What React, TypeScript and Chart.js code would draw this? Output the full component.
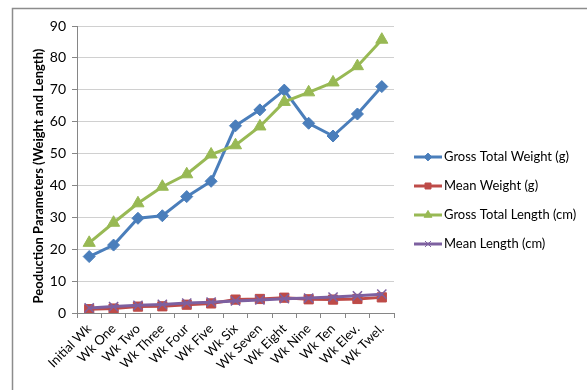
import React, { useEffect, useRef } from "react";
import { Chart, registerables } from "chart.js";
import { drawPoint } from "chart.js/helpers";

Chart.register(...registerables);

const categories = ["Initial Wk", "Wk One", "Wk Two", "Wk Three", "Wk Four", "Wk Five", "Wk Six", "Wk Seven", "Wk Eight", "Wk Nine", "Wk Ten", "Wk Elev.", "Wk Twel."];
const grossTotalWeight = [17.7, 21.3, 29.7, 30.5, 36.5, 41.3, 58.7, 63.7, 69.9, 59.5, 55.5, 62.4, 71.0];
const meanWeight = [1.2, 1.4, 2.0, 2.1, 2.6, 3.0, 4.2, 4.4, 4.8, 4.3, 4.2, 4.4, 4.9];
const grossTotalLength = [22.0, 28.3, 34.4, 39.6, 43.5, 49.7, 52.6, 58.5, 66.2, 69.2, 72.3, 77.4, 85.7];
const meanLength = [1.6, 2.0, 2.4, 2.7, 3.1, 3.4, 3.8, 4.1, 4.5, 4.7, 5.0, 5.4, 5.9];
const seriesNames = ["Gross Total Weight (g)", "Mean Weight (g)", "Gross Total Length (cm)", "Mean Length (cm)"];
const yTitle = "Peoduction Parameters (Weight and Length)";

const FONT = "Lato, 'Open Sans', sans-serif";

export default function App() {
  const ref = useRef<HTMLCanvasElement | null>(null);
  useEffect(() => {
    document.body.style.margin = "0";
    const canvas = ref.current;
    if (!canvas) return;

    const decor = {
      id: "decor",
      beforeDraw(chart: any) {
        const ctx = chart.ctx;
        ctx.save();
        ctx.fillStyle = "#ffffff";
        ctx.fillRect(0, 0, chart.width, chart.height);
        ctx.strokeStyle = "#8c8c8c";
        ctx.lineWidth = 1.5;
        ctx.beginPath();
        ctx.moveTo(12.5, 390);
        ctx.lineTo(12.5, 8.5);
        ctx.lineTo(587, 8.5);
        ctx.stroke();
        ctx.restore();
      },
      afterDraw(chart: any) {
        const ctx = chart.ctx;
        ctx.save();
        ctx.translate(39, 176);
        ctx.rotate(-Math.PI / 2);
        ctx.font = "bold 13px " + FONT;
        ctx.fillStyle = "#000";
        ctx.textAlign = "center";
        ctx.textBaseline = "middle";
        ctx.fillText(yTitle, 0, 0);
        ctx.restore();
        const ys = [157, 186, 215, 244];
        chart.data.datasets.forEach((ds: any, i: number) => {
          const y = ys[i];
          ctx.save();
          ctx.strokeStyle = ds.borderColor;
          ctx.lineWidth = 3;
          ctx.beginPath();
          ctx.moveTo(414, y);
          ctx.lineTo(442, y);
          ctx.stroke();
          ctx.fillStyle = ds.pointBackgroundColor;
          ctx.strokeStyle = ds.pointBorderColor;
          ctx.lineWidth = 1;
          drawPoint(ctx, { pointStyle: ds.pointStyle, radius: ds.pointRadius * 0.65, rotation: 0, borderWidth: 1 } as any, 428, y);
          ctx.fillStyle = "#000";
          ctx.font = "13px " + FONT;
          ctx.textAlign = "left";
          ctx.textBaseline = "middle";
          ctx.fillText(seriesNames[i], 444, y);
          ctx.restore();
        });
      },
    };

    const chart = new Chart(canvas, {
      type: "line",
      data: {
        labels: categories,
        datasets: [
          { label: seriesNames[0], data: grossTotalWeight, borderColor: "#4a7ebb", backgroundColor: "#4a7ebb", pointBackgroundColor: "#4a7ebb", pointBorderColor: "#4a7ebb", pointStyle: "rectRot", pointRadius: 6, pointBorderWidth: 1, borderWidth: 3, order: 3 },
          { label: seriesNames[1], data: meanWeight, borderColor: "#be4b48", backgroundColor: "#be4b48", pointBackgroundColor: "#be4b48", pointBorderColor: "#be4b48", pointStyle: "rect", pointRadius: 6.5, pointBorderWidth: 1, borderWidth: 3, order: 2 },
          { label: seriesNames[2], data: grossTotalLength, borderColor: "#98b954", backgroundColor: "#98b954", pointBackgroundColor: "#98b954", pointBorderColor: "#98b954", pointStyle: "triangle", pointRadius: 7, pointBorderWidth: 1, borderWidth: 3, order: 1 },
          { label: seriesNames[3], data: meanLength, borderColor: "#7d60a0", backgroundColor: "#7d60a0", pointBackgroundColor: "#7d60a0", pointBorderColor: "#7d60a0", pointStyle: "crossRot", pointRadius: 6.5, pointBorderWidth: 1.5, borderWidth: 3, order: 0 },
        ],
      },
      options: {
        animation: false,
        responsive: false,
        devicePixelRatio: 1,
        layout: { padding: { left: 12, top: 26, right: 193, bottom: 0 } },
        plugins: { legend: { display: false }, tooltip: { enabled: false } },
        elements: { line: { tension: 0 } },
        scales: {
          x: {
            offset: true,
            grid: { display: true, drawOnChartArea: false, drawTicks: true, tickLength: 5, offset: true, color: "#868686" },
            border: { color: "#868686", width: 1 },
            ticks: { maxRotation: 45, minRotation: 45, autoSkip: false, color: "#000", font: { family: FONT, size: 13 }, padding: 3 },
            afterFit(scale: any) { scale.height = 77; },
          },
          y: {
            min: 0,
            max: 90,
            ticks: { stepSize: 10, color: "#000", font: { family: FONT, size: 14 }, padding: 6 },
            grid: { color: "#d0d0d0", tickColor: "#868686", tickLength: 5 },
            border: { color: "#868686", width: 1 },
            afterFit(scale: any) { scale.width = 65; },
          },
        },
      },
      plugins: [decor],
    } as any);
    return () => chart.destroy();
  }, []);
  return (
    <div style={{ width: 587, height: 390 }}>
      <canvas ref={ref} width={587} height={390} style={{ display: "block" }} />
    </div>
  );
}
